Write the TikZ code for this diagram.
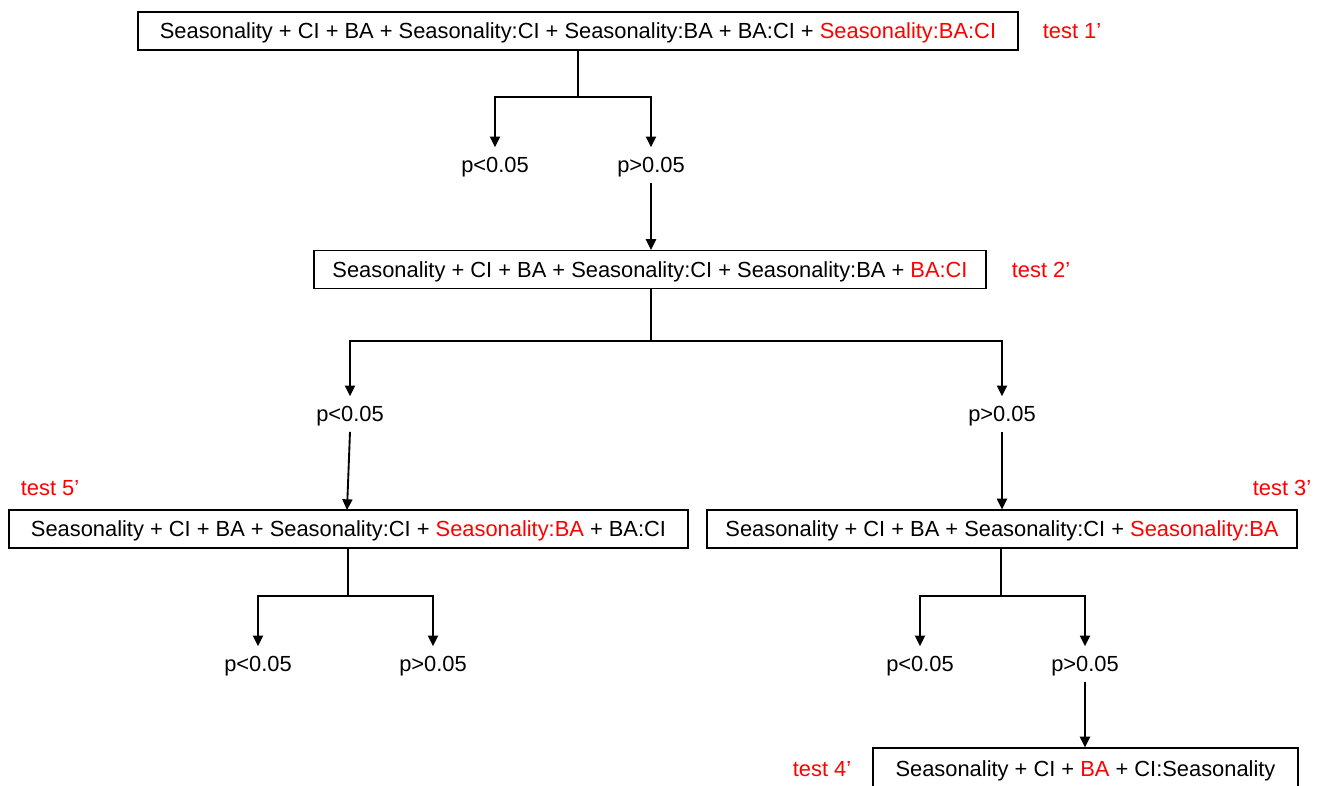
\documentclass[tikz,border=0pt]{standalone}
\usepackage{fontspec}
\setmainfont{Liberation Sans}
\usetikzlibrary{arrows.meta}
\definecolor{tred}{RGB}{255,0,0}
\tikzset{
  px/.style={x=0.75pt,y=-0.75pt},
  fnt/.style={font=\fontsize{16.4pt}{19pt}\selectfont,text height=11.7pt,text depth=0pt},
  box/.style={draw=black,line width=0.9pt,minimum height=28.5pt,inner sep=0pt,fnt},
  plab/.style={inner xsep=0pt,inner ysep=7.3pt,fnt},
  tlab/.style={text=tred,inner sep=0pt,fnt},
  conn/.style={line width=1.4pt},
  arr/.style={conn,-{Triangle[length=8pt,width=7.5pt]}}
}
\newcommand{\R}[1]{\textcolor{tred}{#1}}
\begin{document}
\begin{tikzpicture}[px]
\useasboundingbox (0,0) rectangle (1323,785);
% boxes
\node[box,minimum width=660pt] (b1) at (578,31) {Seasonality + CI + BA + Seasonality:CI + Seasonality:BA + BA:CI + \R{Seasonality:BA:CI}};
\node[box,minimum width=504pt] (b2) at (650,269.5) {Seasonality + CI + BA + Seasonality:CI + Seasonality:BA + \R{BA:CI}};
\node[box,minimum width=509.25pt] (b5) at (348.5,529) {Seasonality + CI + BA + Seasonality:CI + \R{Seasonality:BA} + BA:CI};
\node[box,minimum width=442.5pt] (b3) at (1002,529) {Seasonality + CI + BA + Seasonality:CI + \R{Seasonality:BA}};
\node[box,minimum width=318.75pt,minimum height=31.5pt] (b4) at (1085.5,769) {Seasonality + CI + \R{BA} + CI:Seasonality};
% test labels
\node[tlab] (t1) at (1072,31) {test 1’};
\node[tlab] (t2) at (1041,270) {test 2’};
\node[tlab] (t5) at (50,488) {test 5’};
\node[tlab] (t3) at (1282,488) {test 3’};
\node[tlab] (t4) at (822,769) {test 4’};
% p labels
\node[plab] (p1a) at (495,165) {p<0.05};
\node[plab] (p1b) at (651,165) {p>0.05};
\node[plab] (p2a) at (350,414) {p<0.05};
\node[plab] (p2b) at (1002,414) {p>0.05};
\node[plab] (p5a) at (258,664) {p<0.05};
\node[plab] (p5b) at (433,664) {p>0.05};
\node[plab] (p3a) at (920,664) {p<0.05};
\node[plab] (p3b) at (1085,664) {p>0.05};
% junctions
\coordinate (j1) at (578,97);
\coordinate (j2) at (651,341);
\coordinate (j5) at (348,596);
\coordinate (j3) at (1001,596);
\coordinate (b5in) at (347,510);
% tree 1
\draw[conn] (b1.south -| j1) -- (j1);
\draw[arr] (j1) -| (p1a.north);
\draw[arr] (j1) -| (p1b.north);
\draw[arr] (p1b.south) -- (b2.north -| p1b);
% tree 2
\draw[conn] (b2.south -| j2) -- (j2);
\draw[arr] (j2) -| (p2a.north);
\draw[arr] (j2) -| (p2b.north);
\draw[arr] (p2a.south) -- (b5in);
\draw[arr] (p2b.south) -- (b3.north -| p2b);
% tree 5
\draw[conn] (b5.south -| j5) -- (j5);
\draw[arr] (j5) -| (p5a.north);
\draw[arr] (j5) -| (p5b.north);
% tree 3
\draw[conn] (b3.south -| j3) -- (j3);
\draw[arr] (j3) -| (p3a.north);
\draw[arr] (j3) -| (p3b.north);
\draw[arr] (p3b.south) -- (b4.north -| p3b);
\end{tikzpicture}
\end{document}
